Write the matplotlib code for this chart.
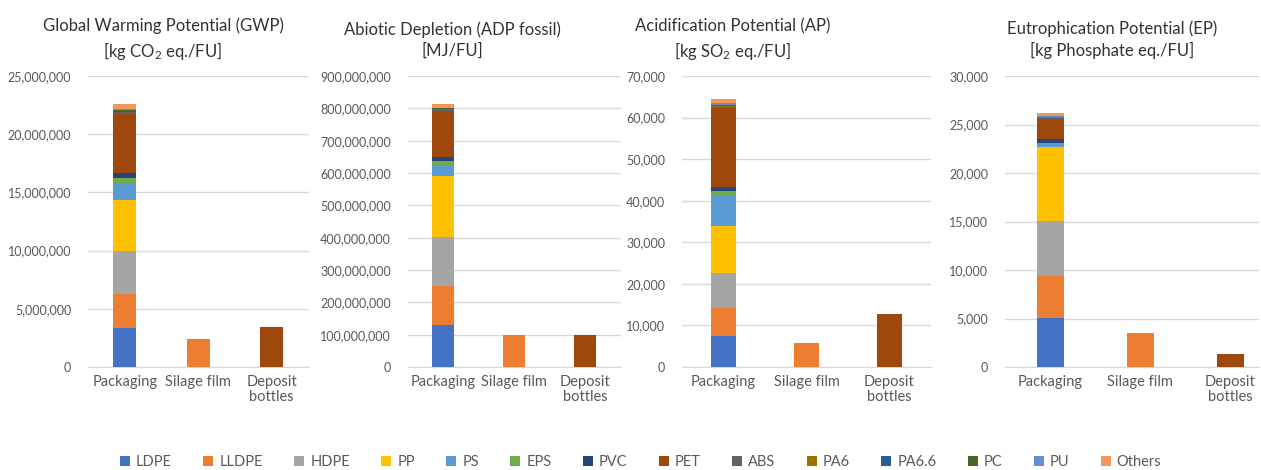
import numpy as np
import matplotlib.pyplot as plt
from matplotlib.ticker import FuncFormatter

plt.rcParams["font.family"] = ["Lato", "DejaVu Sans"]
plt.rcParams["mathtext.fontset"] = "custom"
plt.rcParams["mathtext.rm"] = "Lato"
plt.rcParams["mathtext.default"] = "rm"

# ---- data ----
MATERIALS = ["LDPE", "LLDPE", "HDPE", "PP", "PS", "EPS", "PVC", "PET",
             "ABS", "PA6", "PA6.6", "PC", "PU", "Others"]
COLORS = ["#4472C4", "#ED7D31", "#A5A5A5", "#FFC000", "#5B9BD5", "#70AD47",
          "#264478", "#9E480E", "#636363", "#997300", "#255E91", "#43682B",
          "#698ED0", "#F1975A"]
CATEGORIES = ["Packaging", "Silage film", "Deposit\nbottles"]

# Packaging split per material; silage film is LLDPE only, deposit bottles PET only
GWP_PACKAGING = [3.35e6, 2.92e6, 3.69e6, 4.38e6, 1.43e6, 0.43e6, 0.46e6, 5.10e6,
                 0.12e6, 0.05e6, 0.05e6, 0.13e6, 0.08e6, 0.43e6]
GWP_SILAGE = 2.4e6
GWP_DEPOSIT = 3.44e6

ADP_PACKAGING = [131e6, 121e6, 151e6, 189e6, 30e6, 16e6, 10.6e6, 144e6,
                 4e6, 1.5e6, 1e6, 1.5e6, 1e6, 10.5e6]
ADP_SILAGE = 98e6
ADP_DEPOSIT = 98e6

AP_PACKAGING = [7450, 6740, 8490, 11300, 7200, 1130, 890, 19150,
                250, 100, 100, 130, 630, 890]
AP_SILAGE = 5700
AP_DEPOSIT = 12700

EP_PACKAGING = [5020, 4360, 5640, 7660, 450, 0, 410, 2060,
                110, 30, 30, 40, 40, 340]
EP_SILAGE = 3500
EP_DEPOSIT = 1300

TITLES = ["Global Warming Potential (GWP)\n[kg CO$_2$ eq./FU]",
          "Abiotic Depletion (ADP fossil)\n[MJ/FU]",
          "Acidification Potential (AP)\n[kg SO$_2$ eq./FU]",
          "Eutrophication Potential (EP)\n[kg Phosphate eq./FU]"]
YMAX = [25e6, 900e6, 70000, 30000]
YSTEP = [5e6, 100e6, 10000, 5000]

PANELS = [(GWP_PACKAGING, GWP_SILAGE, GWP_DEPOSIT),
          (ADP_PACKAGING, ADP_SILAGE, ADP_DEPOSIT),
          (AP_PACKAGING, AP_SILAGE, AP_DEPOSIT),
          (EP_PACKAGING, EP_SILAGE, EP_DEPOSIT)]

# ---- layout in pixels ----
W, H = 1261, 470
AX_LEFT = [88, 407.5, 682, 1005]     # px
CAT_STEP = [73.5, 71, 83, 90]        # px per category
BAR_PX = [23, 22, 25, 27]
TITLE_X = [163, 452, 733, 1112]
Y_TOP, Y_BOT = 76, 367

fig = plt.figure(figsize=(W / 100, H / 100), dpi=100)
grid_c = "#D9D9D9"
txt_c = "#595959"

for i, (pack, silage, deposit) in enumerate(PANELS):
    right = min(AX_LEFT[i] + 3 * CAT_STEP[i], W - 2)
    ax = fig.add_axes([AX_LEFT[i] / W, (H - Y_BOT) / H,
                       (right - AX_LEFT[i]) / W, (Y_BOT - Y_TOP) / H])
    values = np.zeros((len(MATERIALS), 3))
    values[:, 0] = pack
    values[MATERIALS.index("LLDPE"), 1] = silage
    values[MATERIALS.index("PET"), 2] = deposit
    x = np.arange(3)
    bottom = np.zeros(3)
    width = BAR_PX[i] / CAT_STEP[i]
    for m, (name, col) in enumerate(zip(MATERIALS, COLORS)):
        ax.bar(x, values[m], width, bottom=bottom, color=col, label=name,
               zorder=3, linewidth=0)
        bottom += values[m]
    ax.set_xlim(-0.5, -0.5 + (right - AX_LEFT[i]) / CAT_STEP[i])
    ax.set_ylim(0, YMAX[i])
    ax.set_yticks(np.arange(0, YMAX[i] + 1, YSTEP[i]))
    ax.yaxis.set_major_formatter(FuncFormatter(lambda v, p: f"{v:,.0f}"))
    ax.set_xticks(x)
    ax.set_xticklabels(CATEGORIES, fontsize=10.5, color=txt_c, linespacing=1.1)
    ax.tick_params(axis="y", labelsize=9, colors=txt_c, length=0, pad=12)
    ax.tick_params(axis="x", length=0, pad=6)
    ax.grid(axis="y", color=grid_c, linewidth=1, zorder=0)
    for s in ["top", "right", "left"]:
        ax.spines[s].set_visible(False)
    ax.spines["bottom"].set_color(grid_c)
    fig.text(TITLE_X[i] / W, 1 - 40 / H, TITLES[i], ha="center", va="center",
             fontsize=12, color="#333333", linespacing=1.35)

handles, labels = ax.get_legend_handles_labels()
fig.legend(handles, labels, loc="center", bbox_to_anchor=(0.508, 8 / H),
           ncol=14, frameon=False, fontsize=10.5, handlelength=0.7,
           handleheight=0.7, handletextpad=0.4, columnspacing=2.15,
           labelcolor=txt_c)

fig.savefig("out.png", dpi=100)
